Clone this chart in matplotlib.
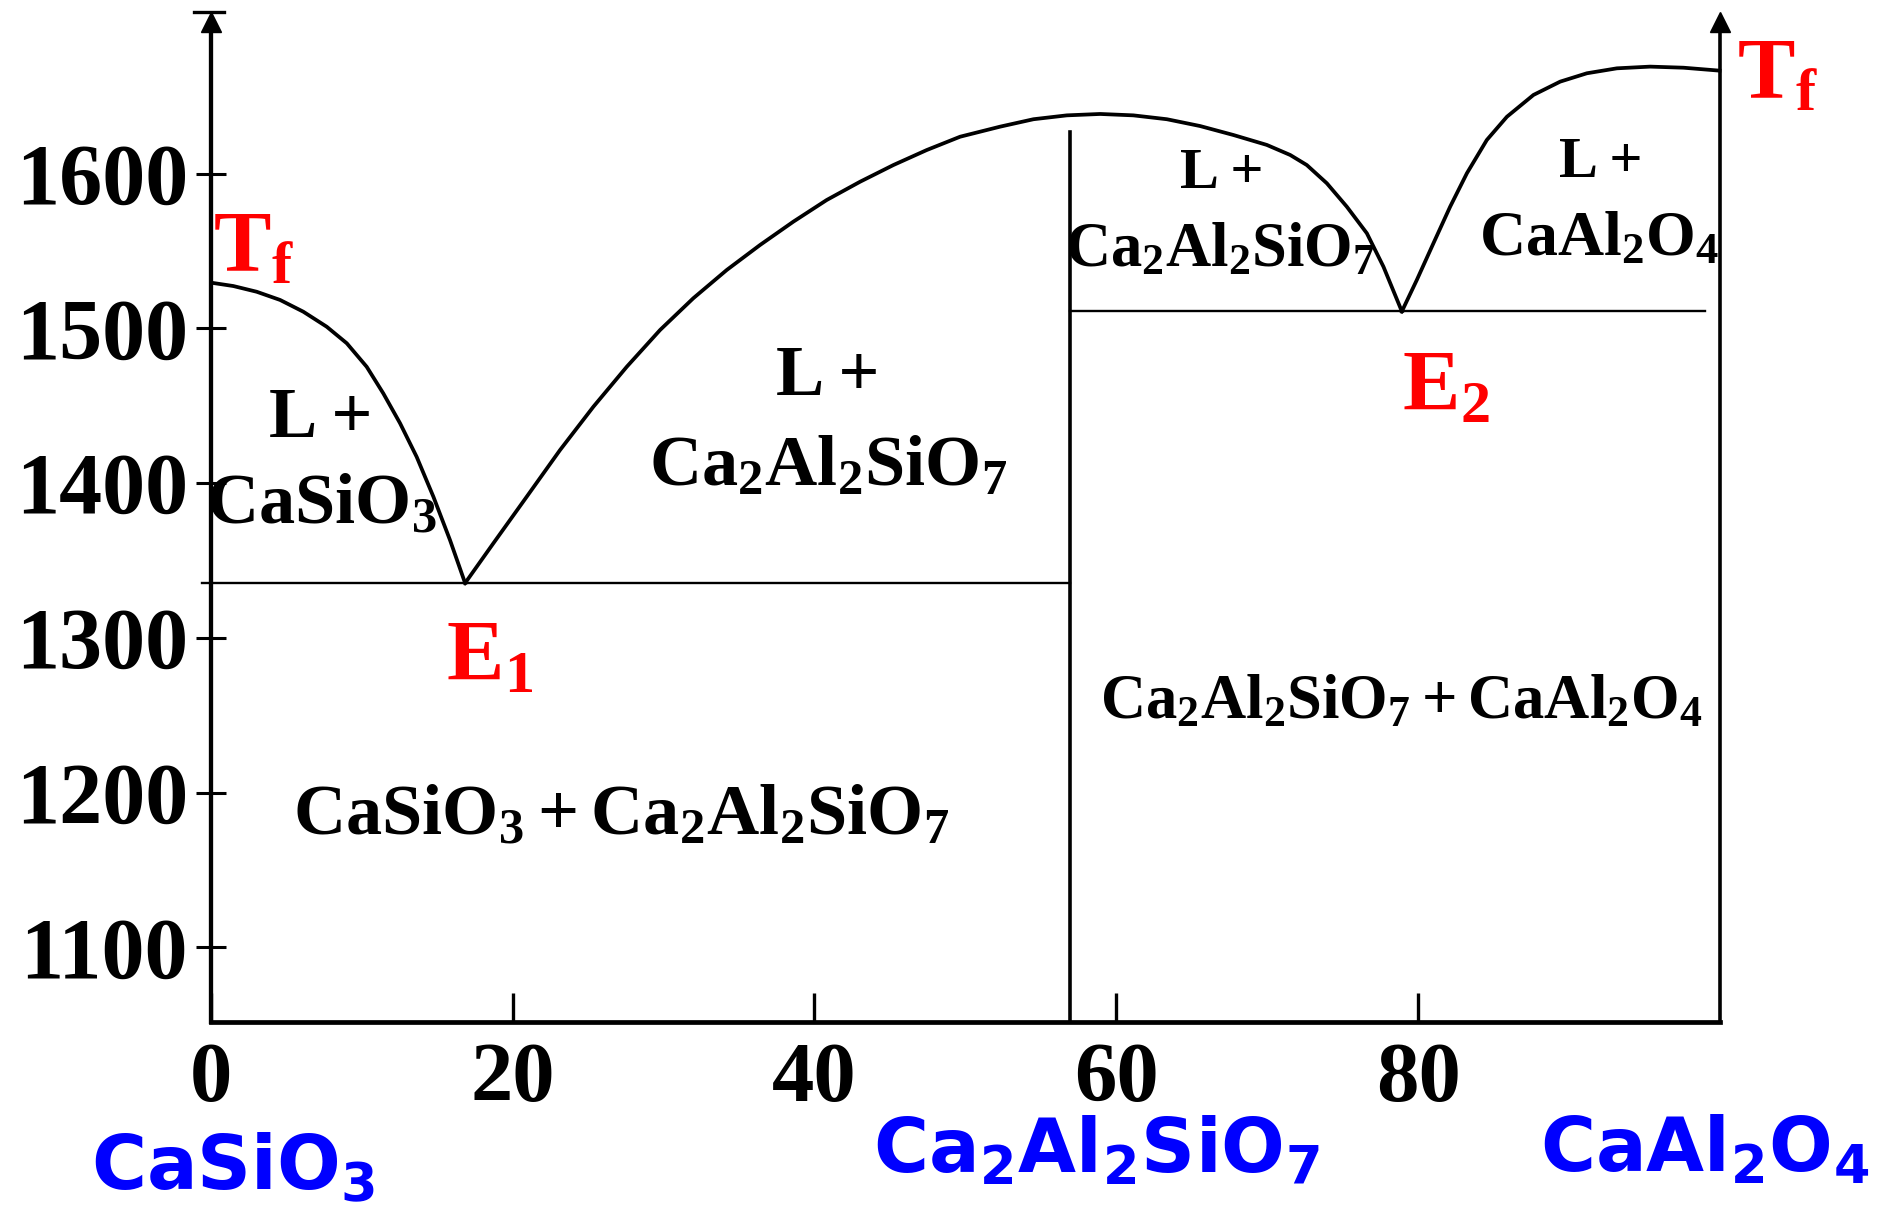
import matplotlib
matplotlib.use("Agg")
import matplotlib.pyplot as plt

plt.rcParams['mathtext.fontset'] = 'custom'
plt.rcParams['mathtext.rm'] = 'Liberation Serif:bold'
plt.rcParams['mathtext.it'] = 'Liberation Serif:bold'
plt.rcParams['mathtext.bf'] = 'Liberation Serif:bold'
plt.rcParams['mathtext.sf'] = 'DejaVu Sans:bold'

# liquidus curves (wt% CaAl2O4, temperature in C)
left_x = [0.06, 1.49, 3.04, 4.59, 6.13, 7.68, 9.01, 10.33, 11.43, 12.54,
          13.64, 14.75, 15.85, 16.85]
left_T = [1529.5, 1527.4, 1523.7, 1518.4, 1510.8, 1501.1, 1490.4, 1475.2,
          1458, 1438.7, 1417, 1391.2, 1363.2, 1335.4]

mid_x = [16.85, 18.72, 20.93, 23.14, 25.35, 27.56, 29.77, 31.97, 34.19,
         36.39, 38.60, 40.81, 43.02, 45.23, 47.44, 49.65, 52.30, 54.51,
         56.72, 58.93, 61.13, 63.35, 65.55, 67.76, 69.97, 71.52, 72.62,
         73.95, 75.27, 76.60, 77.70, 78.92]
mid_T = [1335.4, 1361.1, 1391.2, 1421.4, 1449.4, 1475.2, 1499.0, 1519.5,
         1537.8, 1553.9, 1569, 1583, 1594.8, 1605.6, 1615.3, 1623.9, 1630.4,
         1635.2, 1637.7, 1638.6, 1637.7, 1635.2, 1630.8, 1625.0, 1618.6,
         1612.1, 1605.6, 1593.8, 1578.7, 1561.5, 1539.9, 1511.0]

right_x = [78.92, 79.91, 81.01, 82.12, 83.23, 84.55, 85.88, 87.64, 89.41,
           91.18, 93.17, 95.37, 97.58, 99.97]
right_T = [1511.0, 1531.3, 1555, 1578.7, 1600.3, 1621.8, 1636.8, 1650.9,
           1659.5, 1664.9, 1668.1, 1669.2, 1668.5, 1666.6]

# invariant lines
E1_T = 1335.4
E2_T = 1511.0
compound_x = 56.94
compound_top = 1627.2
E2_end = 99.0

xticks = [0, 20, 40, 60, 80]
yticks = [1100, 1200, 1300, 1400, 1500, 1600]
xlim = (0, 100)
ylim = (1052, 1704.5)

fig = plt.figure(figsize=(18.78, 12.10), dpi=100)
ax = fig.add_axes([0.11225, 0.1557, 0.80362, 0.83438])
ax.set_xlim(xlim)
ax.set_ylim(ylim)

for s in ['top', 'right', 'left']:
    ax.spines[s].set_visible(False)
ax.spines['bottom'].set_linewidth(3.4)

lw_curve = 2.7
ax.plot(left_x, left_T, color='k', lw=lw_curve, clip_on=False)
ax.plot(mid_x, mid_T, color='k', lw=lw_curve, clip_on=False)
ax.plot(right_x, right_T, color='k', lw=lw_curve, clip_on=False)

ax.plot([-0.6, compound_x], [E1_T, E1_T], color='k', lw=1.7, clip_on=False)
ax.plot([compound_x, E2_end], [E2_T, E2_T], color='k', lw=1.7)
ax.plot([compound_x, compound_x], [ylim[0], compound_top], color='k', lw=2.6)

# axis lines with arrow heads
head = ylim[1] - 6.5
ax.plot([0, 0], [ylim[0], head], color='k', lw=3.1, clip_on=False)
ax.plot([100, 100], [ylim[0], head], color='k', lw=2.6, clip_on=False)
ax.plot([0, 100], [head, head], ls='none', marker='^', ms=14, color='k',
        clip_on=False)
ax.plot([-1.1, 0.9], [ylim[1], ylim[1]], color='k', lw=2.4, clip_on=False)

ax.set_xticks(xticks)
ax.set_yticks(yticks)
ax.tick_params(axis='x', direction='in', length=21, width=2.4, pad=15)
ax.tick_params(axis='y', direction='inout', length=21, width=2.2, pad=6)
for lab in ax.get_xticklabels():
    lab.set_fontfamily('Liberation Serif')
    lab.set_fontweight('bold')
    lab.set_fontsize(61)
for lab in ax.get_yticklabels():
    lab.set_fontfamily('Liberation Serif')
    lab.set_fontweight('bold')
    lab.set_fontsize(62)

big = 52
narrow = 45
small_lp = 42
txt = dict(color='k', ha='center', va='baseline')
lp = dict(color='k', ha='center', va='baseline', family='Liberation Serif',
          weight='bold')
ax.text(7.3, 1430, 'L +', fontsize=big, **lp)
ax.text(7.3, 1374, r'$\mathrm{CaSiO_3}$', fontsize=big, **txt)
ax.text(40.9, 1457, 'L +', fontsize=big, **lp)
ax.text(40.9, 1399, r'$\mathrm{Ca_2Al_2SiO_7}$', fontsize=big, **txt)
ax.text(67.0, 1591, 'L +', fontsize=small_lp, **lp)
ax.text(66.9, 1540, r'$\mathrm{Ca_2Al_2SiO_7}$', fontsize=narrow, **txt)
ax.text(92.1, 1598, 'L +', fontsize=small_lp, **lp)
ax.text(92.0, 1547, r'$\mathrm{CaAl_2O_4}$', fontsize=46, **txt)
ax.text(27.2, 1173, r'$\mathrm{CaSiO_3 + Ca_2Al_2SiO_7}$', fontsize=big, **txt)
ax.text(78.9, 1248, r'$\mathrm{Ca_2Al_2SiO_7 + CaAl_2O_4}$', fontsize=narrow, **txt)

red = dict(color='red', ha='left', va='baseline', fontsize=62)
ax.text(0.15, 1537, r'$\mathrm{T_f}$', **red)
ax.text(101.1, 1649, r'$\mathrm{T_f}$', **red)
ax.text(15.6, 1273, r'$\mathrm{E_1}$', **red)
ax.text(78.9, 1447, r'$\mathrm{E_2}$', **red)

blue = dict(color='blue', ha='center', va='baseline', fontsize=54)
ax.text(1.5, 944, r'$\mathsf{CaSiO_3}$', **blue)
ax.text(58.7, 955, r'$\mathsf{Ca_2Al_2SiO_7}$', **blue)
ax.text(99.0, 955, r'$\mathsf{CaAl_2O_4}$', **blue)

fig.savefig('out.png', dpi=100)
